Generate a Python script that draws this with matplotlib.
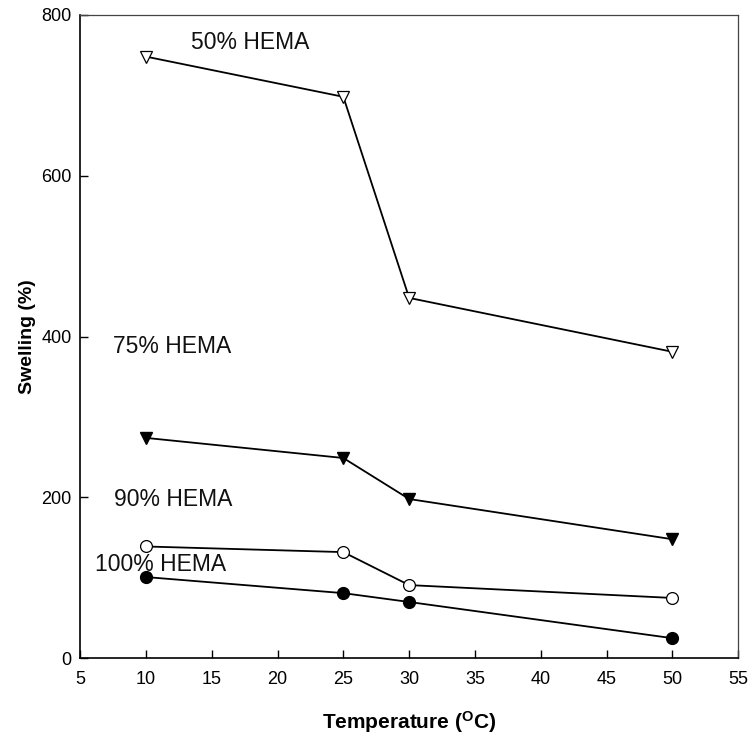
import matplotlib
matplotlib.use('Agg')
import matplotlib.pyplot as plt

plt.rcParams['font.family'] = ['Liberation Sans', 'DejaVu Sans']
plt.rcParams['mathtext.fontset'] = 'custom'
plt.rcParams['mathtext.rm'] = 'Liberation Sans'
plt.rcParams['mathtext.bf'] = 'Liberation Sans:bold'

temp = [10, 25, 30, 50]
hema_50 = [748, 698, 448, 381]
hema_75 = [274, 249, 198, 148]
hema_90 = [139, 132, 91, 75]
hema_100 = [101, 81, 70, 25]

labels = ['50% HEMA', '75% HEMA', '90% HEMA', '100% HEMA']
label_pos = [(13.4, 765), (7.5, 388), (7.6, 197), (6.1, 116)]

fig = plt.figure(figsize=(7.48, 7.38), dpi=100, facecolor='white')
ax = fig.add_axes([0.107, 0.108, 0.880, 0.872])

ax.plot(temp, hema_50, '-v', color='black', lw=1.3, ms=9, mfc='white', mec='black', mew=0.9)
ax.plot(temp, hema_75, '-v', color='black', lw=1.3, ms=9, mfc='black', mec='black')
ax.plot(temp, hema_90, '-o', color='black', lw=1.3, ms=8.5, mfc='white', mec='black', mew=0.9)
ax.plot(temp, hema_100, '-o', color='black', lw=1.3, ms=8.5, mfc='black', mec='black')

for txt, (x, y) in zip(labels, label_pos):
    ax.text(x, y, txt, fontsize=16.5, ha='left', va='center', color='#111111')

ax.set_xlim(5, 55)
ax.set_ylim(0, 800)
ax.set_xticks(range(5, 60, 5))
ax.set_yticks([0, 200, 400, 600, 800])
ax.tick_params(direction='in', length=6, width=1, labelsize=13, colors='black')
ax.tick_params(axis='x', pad=9)
ax.tick_params(axis='y', pad=6)

ax.spines['left'].set_linewidth(1.2)
ax.spines['bottom'].set_linewidth(1.2)
for s in ['top', 'right']:
    ax.spines[s].set_linewidth(0.9)
    ax.spines[s].set_color('#444444')

ax.set_xlabel(r'Temperature ($\mathbf{^{O}}$C)', fontsize=15, fontweight='bold', labelpad=15)
ax.set_ylabel('Swelling (%)', fontsize=14, fontweight='bold', labelpad=4)

fig.savefig('out.png', dpi=100, facecolor='white')
